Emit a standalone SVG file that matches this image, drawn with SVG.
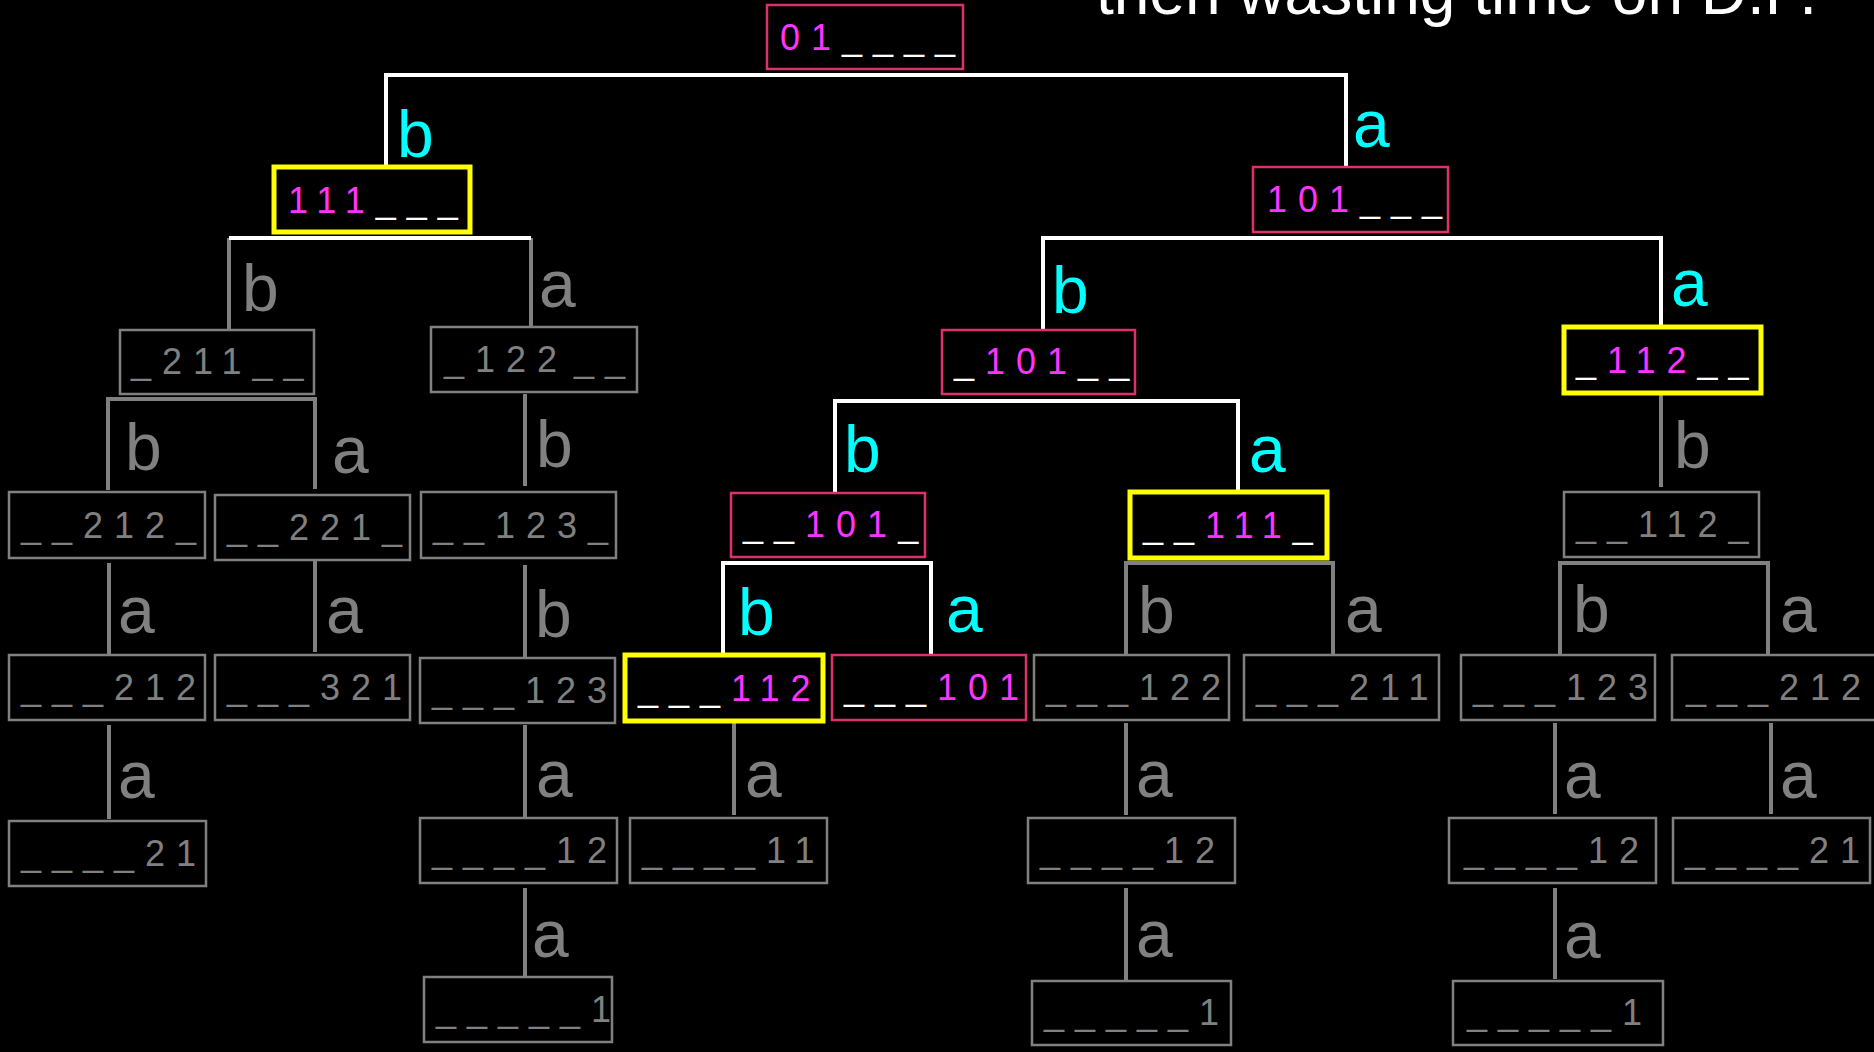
<svg xmlns="http://www.w3.org/2000/svg" width="1874" height="1052" viewBox="0 0 1874 1052">
<style>
.pk{fill:#000;stroke:#e0306a;stroke-width:2.5}
.yl{fill:#000;stroke:#ffff00;stroke-width:5}
.gy{fill:#000;stroke:#808080;stroke-width:2.5}
.t{font-family:"Liberation Sans",Arial,sans-serif;font-size:36px;letter-spacing:11px}
.m{fill:#ff33ff}
.w{fill:#ffffff}
.g{fill:#808080}
.lb{font-family:"Liberation Sans",Arial,sans-serif;font-size:66px}
.cy{fill:#00ffff}
.cw{fill:none;stroke:#ffffff;stroke-width:4}
.cg{fill:none;stroke:#808080;stroke-width:4}
.title{font-family:"Liberation Sans",Arial,sans-serif;font-size:64px;fill:#ffffff}
</style>
<rect x="0" y="0" width="1874" height="1052" fill="#000"/>
<text class="title" x="1096" y="14">then wasting time on D.P.</text>

<g id="connectors">
  <path class="cw" d="M386,166 V75 H1346 V167"/>
  <path class="cg" d="M229,330 V238"/>
  <path class="cg" d="M531,326 V238"/>
  <path class="cw" d="M229,238 H531"/>
  <path class="cw" d="M1043,330 V238 H1661 V327"/>
  <path class="cw" d="M835,492 V401 H1238 V490"/>
  <path class="cw" d="M723,655 V563 H931 V654"/>
  <path class="cg" d="M108,490 V399 H315 V489"/>
  <path class="cg" d="M525,394 V486"/>
  <path class="cg" d="M1661,395 V487"/>
  <path class="cg" d="M109,563 V655"/>
  <path class="cg" d="M315,560 V652"/>
  <path class="cg" d="M525,565 V658"/>
  <path class="cg" d="M1126,654 V563 H1333 V654"/>
  <path class="cg" d="M1560,654 V563 H1768 V654"/>
  <path class="cg" d="M109,725 V819"/>
  <path class="cg" d="M525,725 V817"/>
  <path class="cg" d="M734,723 V815"/>
  <path class="cg" d="M1126,723 V815"/>
  <path class="cg" d="M1555,723 V814"/>
  <path class="cg" d="M1771,723 V814"/>
  <path class="cg" d="M525,888 V978"/>
  <path class="cg" d="M1126,888 V980"/>
  <path class="cg" d="M1555,888 V979"/>
  <g class="lb cy">
    <text x="397" y="157">b</text>
    <text x="1353" y="147">a</text>
    <text x="1052" y="313">b</text>
    <text x="1671" y="306">a</text>
    <text x="844" y="472">b</text>
    <text x="1249" y="472">a</text>
    <text x="738" y="635">b</text>
    <text x="946" y="632">a</text>
  </g>
  <g class="lb g">
    <text x="242" y="311">b</text>
    <text x="539" y="307">a</text>
    <text x="125" y="470">b</text>
    <text x="332" y="473">a</text>
    <text x="536" y="467">b</text>
    <text x="1674" y="468">b</text>
    <text x="118" y="633">a</text>
    <text x="326" y="633">a</text>
    <text x="535" y="637">b</text>
    <text x="1138" y="633">b</text>
    <text x="1345" y="632">a</text>
    <text x="1573" y="632">b</text>
    <text x="1780" y="632">a</text>
    <text x="118" y="798">a</text>
    <text x="536" y="797">a</text>
    <text x="745" y="797">a</text>
    <text x="1136" y="797">a</text>
    <text x="1564" y="798">a</text>
    <text x="1780" y="798">a</text>
    <text x="532" y="957">a</text>
    <text x="1136" y="957">a</text>
    <text x="1564" y="958">a</text>
  </g>
</g>

<g id="n0"><rect class="pk" x="767" y="5" width="196" height="64"/><text class="t" x="780" y="50"><tspan class="m">01</tspan><tspan class="w">____</tspan></text></g>
<g id="n1"><rect class="yl" x="274" y="167" width="196" height="65"/><text class="t" x="288" y="213"><tspan class="m">111</tspan><tspan class="w">___</tspan></text></g>
<g id="n2"><rect class="pk" x="1253" y="167" width="195" height="65"/><text class="t" x="1267" y="212"><tspan class="m">101</tspan><tspan class="w">___</tspan></text></g>
<g id="n3"><rect class="gy" x="120" y="330" width="194" height="64"/><text class="t g" x="131" y="374">_211__</text></g>
<g id="n4"><rect class="gy" x="431" y="327" width="206" height="65"/><text class="t g" x="444" y="372" style="word-spacing:-15px">_122 __</text></g>
<g id="n5"><rect class="pk" x="942" y="330" width="193" height="64"/><text class="t" x="954" y="374"><tspan class="w">_</tspan><tspan class="m">101</tspan><tspan class="w">__</tspan></text></g>
<g id="n6"><rect class="yl" x="1564" y="327" width="197" height="66"/><text class="t" x="1576" y="373"><tspan class="w">_</tspan><tspan class="m">112</tspan><tspan class="w">__</tspan></text></g>
<g id="n7"><rect class="gy" x="9" y="492" width="196" height="66"/><text class="t g" x="21" y="538">__212_</text></g>
<g id="n8"><rect class="gy" x="215" y="495" width="195" height="65"/><text class="t g" x="227" y="540">__221_</text></g>
<g id="n9"><rect class="gy" x="421" y="492" width="195" height="66"/><text class="t g" x="433" y="538">__123_</text></g>
<g id="n10"><rect class="pk" x="731" y="493" width="194" height="64"/><text class="t" x="743" y="537"><tspan class="w">__</tspan><tspan class="m">101</tspan><tspan class="w">_</tspan></text></g>
<g id="n11"><rect class="yl" x="1130" y="492" width="197" height="66"/><text class="t" x="1143" y="538"><tspan class="w">__</tspan><tspan class="m">111</tspan><tspan class="w">_</tspan></text></g>
<g id="n12"><rect class="gy" x="1564" y="492" width="195" height="65"/><text class="t g" x="1576" y="537">__112_</text></g>
<g id="n13"><rect class="gy" x="9" y="655" width="196" height="65"/><text class="t g" x="21" y="700">___212</text></g>
<g id="n14"><rect class="gy" x="215" y="655" width="195" height="65"/><text class="t g" x="227" y="700">___321</text></g>
<g id="n15"><rect class="gy" x="420" y="658" width="195" height="65"/><text class="t g" x="432" y="703">___123</text></g>
<g id="n16"><rect class="yl" x="625" y="655" width="198" height="66"/><text class="t" x="638" y="701"><tspan class="w">___</tspan><tspan class="m">112</tspan></text></g>
<g id="n17"><rect class="pk" x="832" y="655" width="194" height="65"/><text class="t" x="844" y="700"><tspan class="w">___</tspan><tspan class="m">101</tspan></text></g>
<g id="n18"><rect class="gy" x="1034" y="655" width="195" height="65"/><text class="t g" x="1046" y="700">___122</text></g>
<g id="n19"><rect class="gy" x="1244" y="655" width="195" height="65"/><text class="t g" x="1256" y="700">___211</text></g>
<g id="n20"><rect class="gy" x="1461" y="655" width="194" height="65"/><text class="t g" x="1473" y="700">___123</text></g>
<g id="n21"><rect class="gy" x="1672" y="655" width="210" height="65"/><text class="t g" x="1686" y="700">___212</text></g>
<g id="n22"><rect class="gy" x="9" y="821" width="197" height="65"/><text class="t g" x="21" y="866">____21</text></g>
<g id="n23"><rect class="gy" x="420" y="818" width="197" height="65"/><text class="t g" x="432" y="863">____12</text></g>
<g id="n24"><rect class="gy" x="630" y="818" width="197" height="65"/><text class="t g" x="642" y="863">____11</text></g>
<g id="n25"><rect class="gy" x="1028" y="818" width="207" height="65"/><text class="t g" x="1040" y="863">____12</text></g>
<g id="n26"><rect class="gy" x="1449" y="818" width="207" height="65"/><text class="t g" x="1464" y="863">____12</text></g>
<g id="n27"><rect class="gy" x="1673" y="818" width="197" height="65"/><text class="t g" x="1685" y="863">____21</text></g>
<g id="n28"><rect class="gy" x="424" y="977" width="188" height="65"/><text class="t g" x="436" y="1022">_____1</text></g>
<g id="n29"><rect class="gy" x="1032" y="981" width="199" height="64"/><text class="t g" x="1044" y="1025">_____1</text></g>
<g id="n30"><rect class="gy" x="1453" y="981" width="210" height="64"/><text class="t g" x="1467" y="1025">_____1</text></g>
</svg>
